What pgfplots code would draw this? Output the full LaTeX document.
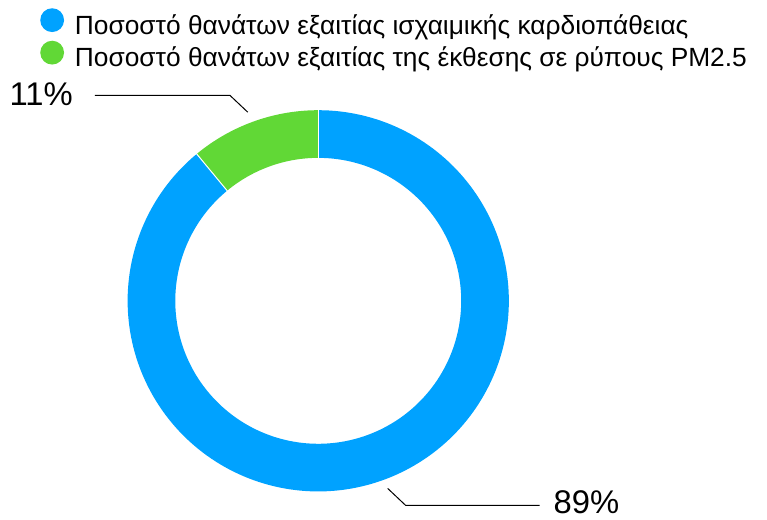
\documentclass[border=0pt]{standalone}
\usepackage{pgfplots}
\pgfplotsset{compat=1.18}
\usepackage{pgfplotstable}
\usepackage{fontspec}
\setmainfont{Liberation Sans}
\definecolor{pblue}{HTML}{00A2FF}
\definecolor{pgreen}{HTML}{61D836}
\pgfplotstableread{
share
89
11
}\shares
\begin{document}
\pgfplotstablegetelem{0}{share}\of\shares \let\vA\pgfplotsretval
\pgfplotstablegetelem{1}{share}\of\shares \let\vB\pgfplotsretval
\pgfmathsetmacro\aG{90+3.6*\vB}
\pgfmathsetmacro\aE{\aG+3.6*\vA}
\begin{tikzpicture}
\begin{axis}[
  scale only axis, width=767bp, height=523bp,
  xmin=0, xmax=767, ymin=0, ymax=523,
  hide axis, clip=false,
  legend cell align=left,
  legend style={at={(axis cs:35,514.7)}, anchor=north west, draw=none, fill=none,
    inner sep=0pt, outer sep=0pt, row sep=5bp,
    nodes={inner sep=0pt},
    /tikz/every odd column/.append style={column sep=11bp},
    font=\fontsize{26.5bp}{32bp}\selectfont},
  legend image code/.code={\fill[#1, draw=none, line width=0pt] (12bp,5bp) circle (12bp);},
]
\addplot[color=pblue, line width=48bp, domain=\aG:\aE, samples=200, variable=\t]
  ({315+168*cos(t)},{220+168*sin(t)});
\addlegendentry{Ποσοστό θανάτων εξαιτίας ισχαιμικής καρδιοπάθειας}
\addplot[color=pgreen, line width=48bp, domain=90:\aG, samples=40, variable=\t]
  ({315+168*cos(t)},{220+168*sin(t)});
\addlegendentry{Ποσοστό θανάτων εξαιτίας της έκθεσης σε ρύπους PM2.5}
\draw[white, line width=1bp] (axis cs:{315+143*cos(90)},{220+143*sin(90)}) -- (axis cs:{315+193*cos(90)},{220+193*sin(90)});
\draw[white, line width=1bp] (axis cs:{315+143*cos(\aG)},{220+143*sin(\aG)}) -- (axis cs:{315+193*cos(\aG)},{220+193*sin(\aG)});
\addplot[black, line width=1bp, forget plot] coordinates {(90,427) (226,427) (244,410)};
\addplot[black, line width=1bp, forget plot] coordinates {(385,31) (403,14) (538,14)};
\node[anchor=base west, inner sep=0pt, font=\fontsize{33bp}{33bp}\selectfont] at (axis cs:4,417) {11\%};
\node[anchor=base west, inner sep=0pt, font=\fontsize{33bp}{33bp}\selectfont] at (axis cs:552,5.5) {89\%};
\end{axis}
\pgfresetboundingbox
\path (0,0) rectangle (767bp,523bp);
\end{tikzpicture}
\end{document}
